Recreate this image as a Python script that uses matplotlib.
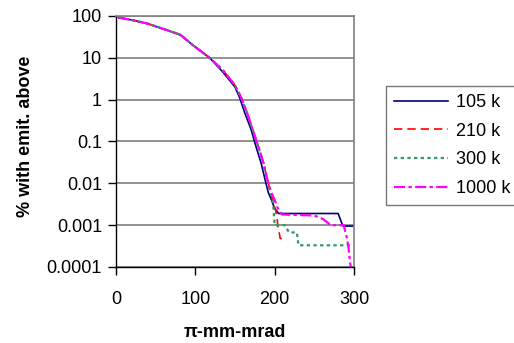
import matplotlib
matplotlib.use('Agg')
import matplotlib.pyplot as plt
from matplotlib.ticker import FixedLocator, FuncFormatter, NullLocator

plt.rcParams['font.family'] = ['Liberation Sans', 'DejaVu Sans']

# emittance (pi-mm-mrad) vs % of particles above it
x_105 = [3, 20, 40, 64, 81, 97, 118, 135, 150, 156, 162, 170, 177, 183, 188, 192, 196, 200, 205, 280, 286, 300]
y_105 = [92, 80, 65, 46, 35, 20, 10, 4.5, 2.0, 1.1, 0.5, 0.2, 0.07, 0.03, 0.012, 0.006, 0.004, 0.0025, 0.0019, 0.0019, 0.00095, 0.00095]

x_210 = [3, 20, 40, 64, 81, 97, 118, 135, 150, 158, 165, 172, 180, 186, 191, 195, 199, 201, 203, 204, 205, 207, 209]
y_210 = [92, 80, 66, 46, 36, 20, 10, 5, 2.2, 1.1, 0.5, 0.2, 0.07, 0.03, 0.012, 0.006, 0.003, 0.0024, 0.0015, 0.00095, 0.0008, 0.00048, 0.00048]

x_300 = [3, 20, 40, 64, 81, 97, 118, 135, 150, 158, 165, 172, 180, 186, 190, 194, 198, 200, 213, 218, 228, 230, 300]
y_300 = [92, 80, 66, 46, 36, 20, 10, 5, 2.2, 1.1, 0.5, 0.2, 0.07, 0.03, 0.013, 0.0072, 0.0035, 0.001, 0.001, 0.00067, 0.00067, 0.00033, 0.00033]

x_1000 = [3, 20, 40, 64, 81, 97, 118, 135, 150, 158, 165, 172, 180, 186, 192, 196, 200, 204, 209, 250, 261, 268, 270, 287, 291, 293, 295, 296]
y_1000 = [92, 80, 66, 46, 36, 20, 10, 5, 2.2, 1.1, 0.5, 0.2, 0.07, 0.03, 0.01, 0.006, 0.004, 0.0025, 0.0018, 0.0017, 0.0014, 0.0011, 0.001, 0.001, 0.0005, 0.0003, 0.00013, 0.0001]

y_ticks = [0.0001, 0.001, 0.01, 0.1, 1, 10, 100]
x_ticks = [0, 100, 200, 300]

fig = plt.figure(figsize=(5.14, 3.43), dpi=100)
ax = fig.add_axes([0.2257, 0.2216, 0.4630, 0.7318])

ax.plot(x_105, y_105, color='#000080', lw=1.2, ls='-', label='105 k')
ax.plot(x_210, y_210, color='#ff0000', lw=1.2, ls=(0, (5, 3)), label='210 k')
ax.plot(x_300, y_300, color='#339966', lw=1.6, ls=(0, (1.5, 1.5)), label='300 k')
ax.plot(x_1000, y_1000, color='#ff00ff', lw=1.6, ls=(0, (5, 1.5, 1.5, 1.5)), label='1000 k')

ax.set_yscale('log')
ax.set_ylim(0.0001, 100)
ax.set_xlim(0, 300)
ax.yaxis.set_major_locator(FixedLocator(y_ticks))
ax.yaxis.set_minor_locator(NullLocator())
ax.yaxis.set_major_formatter(FuncFormatter(lambda v, p: '%g' % v))
ax.set_xticks(x_ticks)

ax.grid(axis='y', color='#808080', lw=1.2)
ax.set_axisbelow(True)
for s in ['left', 'bottom']:
    ax.spines[s].set_color('black')
    ax.spines[s].set_linewidth(1.0)
for s in ['top', 'right']:
    ax.spines[s].set_color('#808080')
    ax.spines[s].set_linewidth(1.2)

ax.tick_params(axis='both', direction='out', length=6, width=1, labelsize=13, colors='black', pad=4)
ax.tick_params(axis='x', pad=11)

ax.set_xlabel('π-mm-mrad', fontsize=13, fontweight='bold', labelpad=12)
ax.set_ylabel('% with emit. above', fontsize=13, fontweight='bold')
ax.yaxis.set_label_coords(-0.345, 0.52)

leg = fig.legend(loc='upper left', bbox_to_anchor=(0.751, 0.75), bbox_transform=fig.transFigure,
                 fontsize=13, frameon=True, fancybox=False, handlelength=3.0, handletextpad=0.4,
                 labelspacing=0.65, borderpad=0.45, borderaxespad=0)
leg.get_frame().set_edgecolor('#555555')
leg.get_frame().set_linewidth(1.0)

plt.savefig('out.png', dpi=100)
plt.close(fig)
